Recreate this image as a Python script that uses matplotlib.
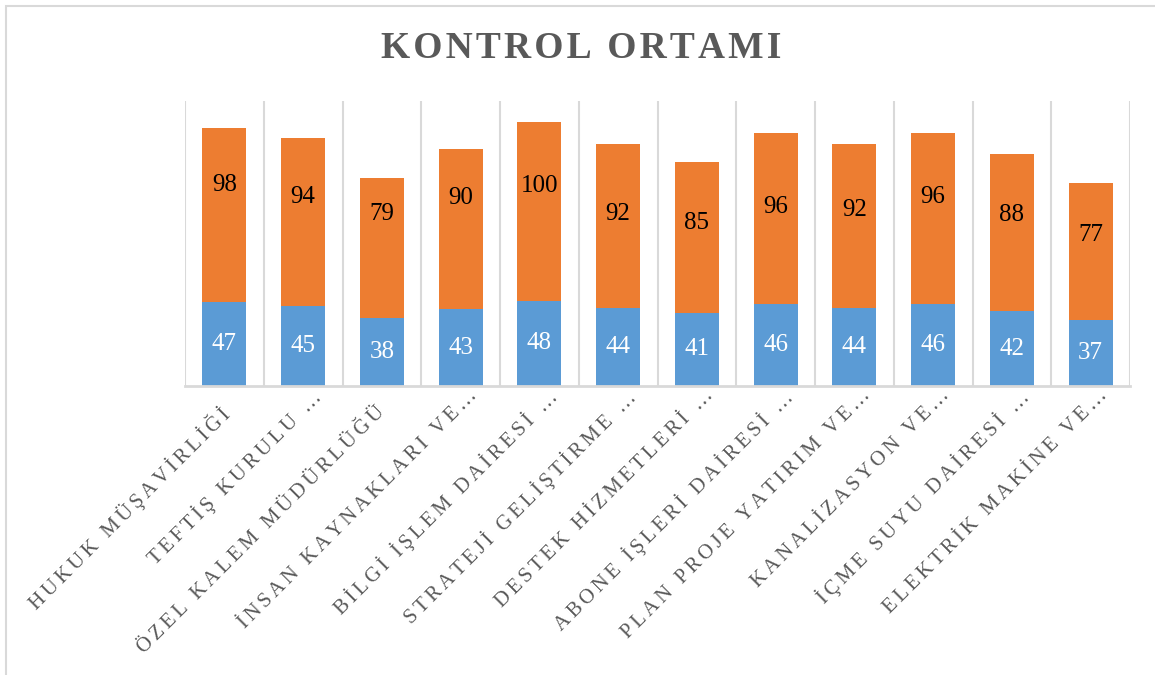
import matplotlib
matplotlib.use("Agg")
import matplotlib.pyplot as plt
import matplotlib.transforms as mtransforms
import numpy as np

# data
categories = [
    "HUKUK MÜŞAVİRLİĞİ",
    "TEFTİŞ KURULU …",
    "ÖZEL KALEM MÜDÜRLÜĞÜ",
    "İNSAN KAYNAKLARI VE…",
    "BİLGİ İŞLEM DAİRESİ …",
    "STRATEJİ GELİŞTİRME …",
    "DESTEK HİZMETLERİ …",
    "ABONE İŞLERİ DAİRESİ …",
    "PLAN PROJE YATIRIM VE…",
    "KANALİZASYON VE…",
    "İÇME SUYU DAİRESİ …",
    "ELEKTRİK MAKİNE VE…",
]
blue_values = [47, 45, 38, 43, 48, 44, 41, 46, 44, 46, 42, 37]
orange_values = [98, 94, 79, 90, 100, 92, 85, 96, 92, 96, 88, 77]

# label nudges (pixels, upward) for the orange labels, as in the source chart
orange_label_lift = [30, 25, 34, 31, 25, 12, 14, 12, 16, 22, 18, 17]

BLUE = "#5B9BD5"
ORANGE = "#ED7D31"
GRAY_TEXT = "#595959"
GRID = "#D9D9D9"
FONT = ["Liberation Serif", "DejaVu Serif", "DejaVu Sans"]


def spaced(s, sep="\u2009"):
    # imitate Excel character spacing
    return sep.join(s)


fig = plt.figure(figsize=(11.55, 6.75), dpi=100)
ax = fig.add_axes([185 / 1155, 1 - 386 / 675, 945 / 1155, 285 / 675])

x = np.arange(len(categories))
ax.bar(x, blue_values, width=0.56, color=BLUE, zorder=3)
ax.bar(x, orange_values, width=0.56, bottom=blue_values, color=ORANGE, zorder=3)

for i in range(len(categories)):
    b = blue_values[i]
    o = orange_values[i]
    ax.text(x[i], b / 2, str(b), ha="center", va="center", color="white",
            fontsize=18, family=FONT, zorder=4)
    ax.annotate(str(o), (x[i], b + o / 2), xytext=(0, orange_label_lift[i] * 0.72),
                textcoords="offset points", ha="center", va="center",
                color="black", fontsize=18, family=FONT, zorder=4)

ax.set_xlim(-0.5, len(categories) - 0.5)
ax.set_ylim(0, 160)
ax.set_yticks([])
for sp in ["top", "left", "right"]:
    ax.spines[sp].set_visible(False)
ax.spines["bottom"].set_color(GRID)
ax.spines["bottom"].set_linewidth(2)
ax.spines["bottom"].set_zorder(5)

for xv in np.arange(-0.5, len(categories), 1.0):
    ax.axvline(xv, color=GRID, lw=1.5, zorder=1)

ax.set_xticks(x)
ax.set_xticklabels([spaced(c, "\u200a\u200a") for c in categories], rotation=45, ha="right",
                   rotation_mode="anchor", color=GRAY_TEXT, fontsize=15,
                   family=FONT)
ax.tick_params(axis="x", length=0, pad=11)
for lab, c in zip(ax.get_xticklabels(), categories):
    dx, dy = -6, -2
    if c.endswith("…"):
        dx, dy = dx + 13, dy + 17
    lab.set_transform(lab.get_transform() +
                      mtransforms.ScaledTranslation(dx / 100, dy / 100, fig.dpi_scale_trans))

fig.text(0.503, 1 - 49 / 675, spaced("KONTROL ORTAMI", "\u200a"), ha="center", va="center",
         fontsize=27, fontweight="bold", color=GRAY_TEXT, family=FONT)

# chart frame
fig.patches.append(plt.Rectangle((6 / 1155, -0.1), 1.2, 1 - 6 / 675 + 0.1,
                                 transform=fig.transFigure, fill=False,
                                 edgecolor=GRID, lw=1.5))

fig.savefig("out.png", dpi=100)
